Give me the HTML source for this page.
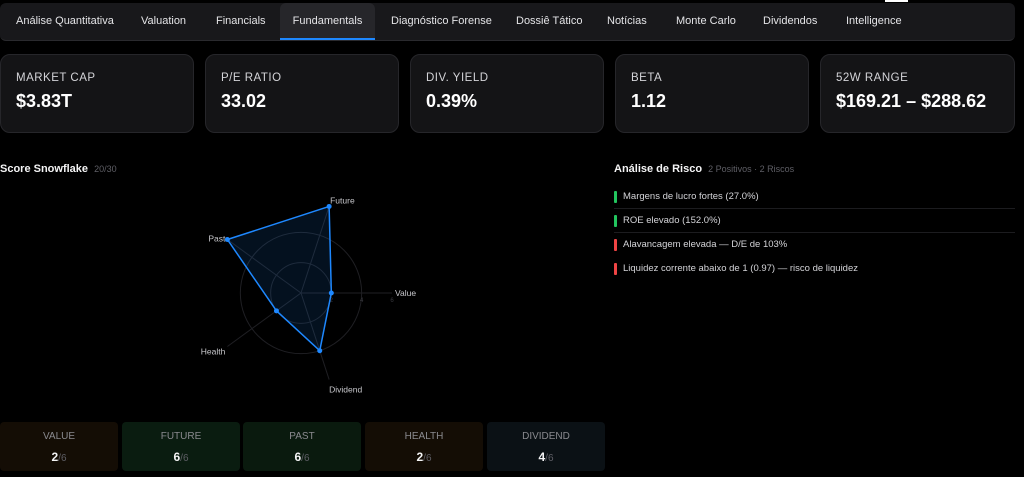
<!DOCTYPE html>
<html><head><meta charset="utf-8">
<style>
*{box-sizing:border-box;margin:0;padding:0}
body{width:1024px;height:477px;background:#000;font-family:"Liberation Sans",sans-serif;color:#e4e4e7;position:relative;overflow:hidden}
.a{position:absolute}
.tabs{left:0;top:3px;width:1015px;height:38px;background:#18181b;border-radius:6px;border-bottom:1px solid #2a2a2e}
.tab{position:absolute;top:0;height:37px;line-height:36px;font-size:11px;color:#e4e4e7}
.tab.act{background:#26262a;border-radius:6px 6px 0 0;border-bottom:2px solid #1e88ff}
.card{top:54px;height:79px;width:194px;background:#141416;border:1px solid #26262a;border-radius:10px}
.card .l{position:absolute;left:15px;top:17px;font-size:11.5px;letter-spacing:.5px;color:#d4d4d8}
.card .v{position:absolute;left:15px;top:36px;font-size:18px;font-weight:bold;color:#fff}
.sc{top:422px;height:49px;width:118px;border-radius:4px;text-align:center}
.sc .l{position:absolute;left:0;right:0;top:9px;font-size:10px;color:#8a8a8f}
.sc .v{position:absolute;left:0;right:0;top:28px;font-size:12px;font-weight:bold;color:#f4f4f5}
.sc .v span{font-weight:normal;color:#5f5f66;font-size:10px}
.ri{left:614px;font-size:9.5px;color:#d4d4d8}
.bar{position:absolute;left:0;top:0;width:3px;height:12px;border-radius:1px}
.sep{left:614px;width:401px;height:1px;background:#1c1c1f}
</style></head><body>
<div class="a" style="left:885px;top:0;width:23px;height:2px;background:#fff"></div>
<div class="a tabs">
<div class="tab" style="left:16px">Análise Quantitativa</div>
<div class="tab" style="left:141px">Valuation</div>
<div class="tab" style="left:216px">Financials</div>
<div class="tab act" style="left:280px;width:95px;text-align:center">Fundamentals</div>
<div class="tab" style="left:391px">Diagnóstico Forense</div>
<div class="tab" style="left:516px">Dossiê Tático</div>
<div class="tab" style="left:607px">Notícias</div>
<div class="tab" style="left:676px">Monte Carlo</div>
<div class="tab" style="left:763px">Dividendos</div>
<div class="tab" style="left:846px">Intelligence</div>
</div>

<div class="a card" style="left:0"><div class="l">MARKET CAP</div><div class="v">$3.83T</div></div>
<div class="a card" style="left:205px"><div class="l">P/E RATIO</div><div class="v">33.02</div></div>
<div class="a card" style="left:410px"><div class="l">DIV. YIELD</div><div class="v">0.39%</div></div>
<div class="a card" style="left:615px"><div class="l">BETA</div><div class="v">1.12</div></div>
<div class="a card" style="left:820px;width:195px"><div class="l">52W RANGE</div><div class="v">$169.21 – $288.62</div></div>

<div class="a" style="left:0;top:163px;font-size:11px;font-weight:bold;color:#f4f4f5">Score Snowflake <span style="font-weight:normal;color:#5f5f66;font-size:9px;margin-left:3px">20/30</span></div>

<svg class="a" style="left:0;top:0" width="610" height="420">
<g id="radar"></g>
</svg>

<div class="a" style="left:614px;top:163px;font-size:11px;font-weight:bold;color:#f4f4f5">Análise de Risco <span style="font-weight:normal;color:#5f5f66;font-size:9px;margin-left:3px">2 Positivos · 2 Riscos</span></div>
<div class="a ri" style="top:191px;padding-left:9px"><div class="bar" style="background:#22c55e"></div>Margens de lucro fortes (27.0%)</div>
<div class="a sep" style="top:208px"></div>
<div class="a ri" style="top:215px;padding-left:9px"><div class="bar" style="background:#22c55e"></div>ROE elevado (152.0%)</div>
<div class="a sep" style="top:232px"></div>
<div class="a ri" style="top:239px;padding-left:9px"><div class="bar" style="background:#ef4444"></div>Alavancagem elevada — D/E de 103%</div>
<div class="a ri" style="top:263px;padding-left:9px"><div class="bar" style="background:#ef4444"></div>Liquidez corrente abaixo de 1 (0.97) — risco de liquidez</div>

<div class="a sc" style="left:0;background:#140d05"><div class="l">VALUE</div><div class="v">2<span>/6</span></div></div>
<div class="a sc" style="left:122px;background:#0a1c10"><div class="l">FUTURE</div><div class="v">6<span>/6</span></div></div>
<div class="a sc" style="left:243px;background:#0a1a0e"><div class="l">PAST</div><div class="v">6<span>/6</span></div></div>
<div class="a sc" style="left:365px;background:#140d05"><div class="l">HEALTH</div><div class="v">2<span>/6</span></div></div>
<div class="a sc" style="left:487px;background:#0b1115"><div class="l">DIVIDEND</div><div class="v">4<span>/6</span></div></div>

<script>
const categories=["Value","Future","Past","Health","Dividend"];
const scores=[2,6,6,2,4];
const maxScore=6;
const ringTicks=[2,4,6];
const NS="http://www.w3.org/2000/svg";
const g=document.getElementById('radar');
const cx=301,cy=293,R=91;
function rad(v){return v/maxScore*R;}
function pt(i,v){const a=-i*2*Math.PI/categories.length;return [cx+rad(v)*Math.cos(a),cy+rad(v)*Math.sin(a)];}
function mk(t,attrs){const e=document.createElementNS(NS,t);for(const k in attrs)e.setAttribute(k,attrs[k]);g.appendChild(e);return e;}
ringTicks.slice(0,2).forEach(t=>{
  const c=mk('circle',{cx:cx,cy:cy,r:rad(t),fill:'none',stroke:'#1f1f23','stroke-width':1});
  
  
});
categories.forEach((c,i)=>{
  const p=pt(i,maxScore);
  const l=mk('line',{x1:cx,y1:cy,x2:p[0],y2:p[1],stroke:'#1f1f23','stroke-width':1});
  
  
});
ringTicks.forEach(t=>{
  const tx=mk('text',{x:cx+rad(t),y:cy+9,'font-size':6,fill:'#3a3a40','text-anchor':'middle','font-family':'Liberation Sans, sans-serif'});
  tx.textContent=t;
  
  
});
const pts=scores.map((v,i)=>pt(i,v));
const poly=mk('polygon',{points:pts.map(p=>p.join(',')).join(' '),fill:'rgba(30,136,255,0.12)',stroke:'#1e88ff','stroke-width':1.5,'stroke-linejoin':'round'});


pts.forEach(p=>{
  const d=mk('circle',{cx:p[0],cy:p[1],r:2.5,fill:'#1e88ff'});
  
  
});
const labelOff=[[3,0,'start'],[0,-6,'start'],[-2,-1,'end'],[-2,5,'end'],[0,10,'start']];
categories.forEach((c,i)=>{
  const base=i===1||i===2?pt(i,scores[i]):pt(i,maxScore);
  let x=base[0]+labelOff[i][0],y=base[1]+labelOff[i][1]+3;
  if(i===1)x=base[0]+1;
  const t=mk('text',{x:x,y:y,'font-size':8.5,fill:'#c8c8cc','text-anchor':labelOff[i][2],'font-family':'Liberation Sans, sans-serif'});
  t.textContent=c;
  
  
});
</script>
</body></html>
